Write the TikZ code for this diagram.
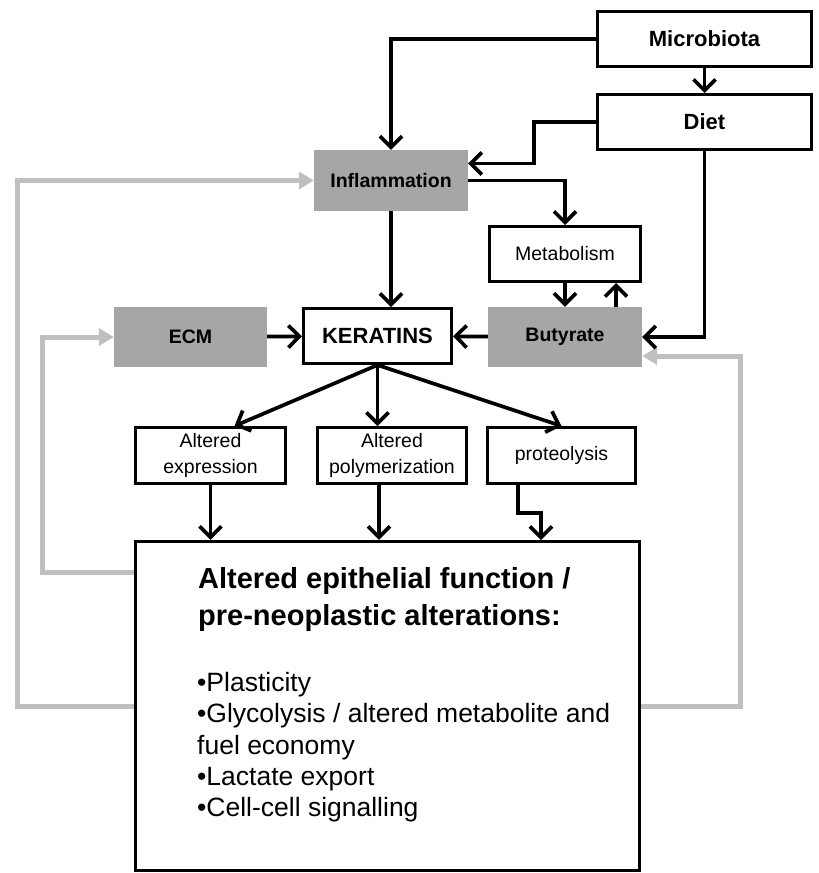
\documentclass[tikz,border=0pt]{standalone}
\usepackage{fontspec}
\setmainfont{Liberation Sans}
\usetikzlibrary{arrows.meta}

\begin{document}
\begin{tikzpicture}
		[x=1pt,y=-1pt,line join=miter,
		%Styles
		box/.style={draw,line width=3pt,inner sep=0pt,minimum width=148pt,minimum height=55pt,align=center,font=\fontsize{19.5}{26}\selectfont},
		shaded box/.style={fill=boxgrey,draw=none,inner sep=0pt,minimum width=154pt,minimum height=60pt,font=\fontsize{19.5}{24}\selectfont\bfseries},
		big label/.style={font=\fontsize{22}{26}\selectfont\bfseries},
		arr/.style={line width=3.7pt,-{Straight Barb[length=11pt,width=22pt]}},
		back arr/.style={draw=linegrey,line width=5pt,-{Triangle[length=15pt,width=17pt]}},
		info text/.style={anchor=north west,inner sep=0pt,align=left}
		]
		
		%Colors
		\colorlet{boxgrey}{black!35}	%shaded boxes
		\colorlet{linegrey}{black!25}	%feedback lines
		
		\useasboundingbox (0,0) rectangle (819,873);
		
		%The graphic
		\node[box,big label,minimum width=214pt] (micro) at (704.5,39) {Microbiota};
		\node[box,big label,minimum width=214pt] (diet) at (704.5,122) {Diet};
		\node[shaded box,minimum height=61pt] (infl) at (391,180.5) {Inflammation};
		\node[box,minimum width=151pt] (metab) at (565,254) {Metabolism};
		\node[shaded box] (buty) at (565,337) {Butyrate};
		\node[shaded box,minimum width=153pt] (ecm) at (190.5,337) {ECM};
		\node[box,big label] (kera) at (377.5,336) {KERATINS};
		
		\node[box,minimum width=150pt,minimum height=56pt] (expr) at (210.5,455.5) {Altered\\expression};
		\node[box,minimum width=149pt,minimum height=56pt] (poly) at (392,455.5) {Altered\\polymerization};
		\node[box,minimum height=56pt] (prot) at (561.5,455.5) {proteolysis};
		
		\node[draw,line width=2.7pt,inner sep=0pt,minimum width=504.5pt,minimum height=329.5pt] (big) at (387.5,706) {};
		\node[info text,font=\fontsize{29}{37}\selectfont\bfseries] (title) at (198,567) {Altered epithelial function /\\pre-neoplastic alterations:};
		\node[info text,font=\fontsize{26.5}{31.3}\selectfont] (list) at (197,672) {•Plasticity\\•Glycolysis / altered metabolite and\\fuel economy\\•Lactate export\\•Cell-cell signalling};
		
		%feedback
		\draw[back arr] (big.west) -- ++(-116,0) |- (infl.west);
		\draw[back arr] ([yshift=134pt]big.west) -- ++(-91,0) |- (ecm.west);
		\draw[back arr] (big.east) -- ++(99,0) |- ([yshift=-19pt]buty.east);
		
		%main arrows
		\draw[arr] (micro.west) -| (infl.north);
		\draw[arr] (micro) -- (diet);
		\draw[arr] (diet.west) -- ++(-62,0) |- ([yshift=17pt]infl.east);
		\draw[arr] (diet.south) |- (buty.east);
		\draw[arr] (infl.east) -| (metab.north);
		\draw[arr] (infl.south) -- (infl.south |- kera.north);
		\draw[arr] (metab.south) -- (buty.north);
		\draw[arr] ([xshift=51pt]buty.north) -- ([xshift=51pt]metab.south);
		\draw[arr] (buty) -- (kera);
		\draw[arr] (ecm) -- (kera);
		
		\draw[arr] (kera.south) -- ([xshift=24pt]expr.north);
		\draw[arr] (kera.south) -- (kera.south |- poly.north);
		\draw[arr] (kera.south) -- (prot.north);
		
		\draw[arr] (expr.south) -- (expr.south |- big.north);
		\draw[arr] ([xshift=-13pt]poly.south) -- ([xshift=-13pt]poly.south |- big.north);
		\draw[arr] ([xshift=-43.5pt]prot.south) -- ++(0,28) -- ++(23,0) -- ++(0,27);
\end{tikzpicture}
\end{document}
